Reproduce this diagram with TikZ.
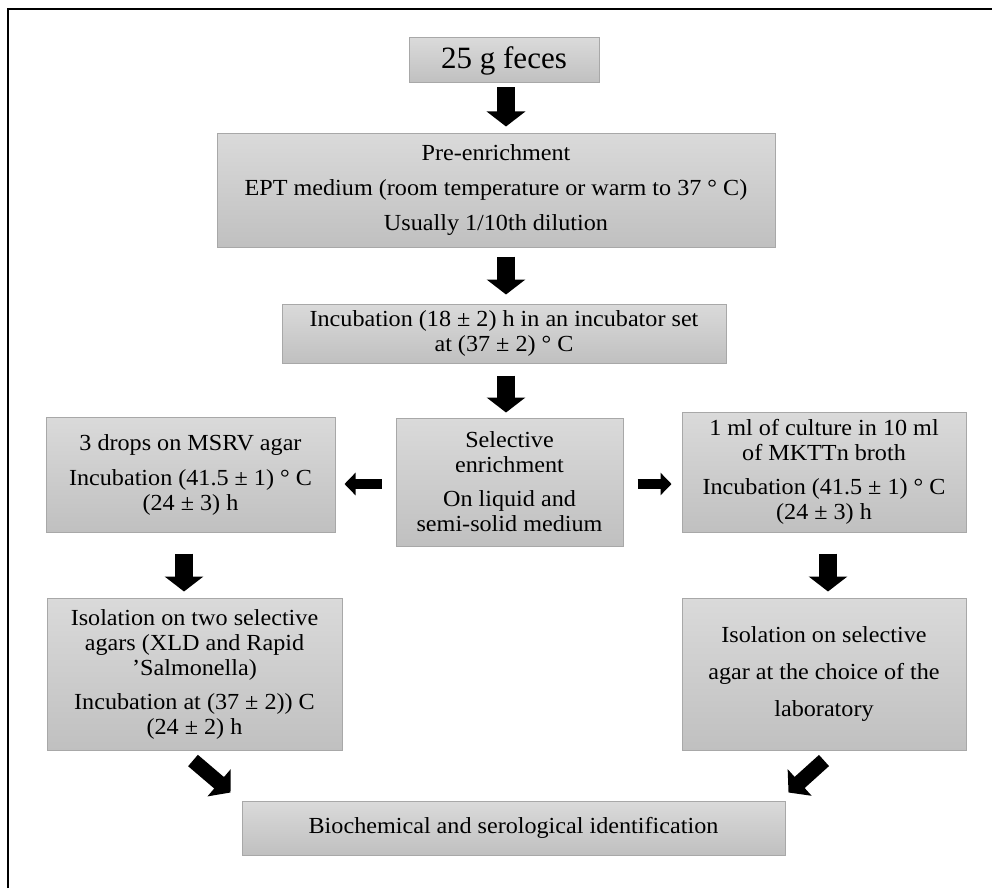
\documentclass[tikz,border=0pt]{standalone}
\usepackage{fontspec}
\setmainfont{Liberation Serif}[FakeStretch=1.05]
\newfontfamily\plainserif{Liberation Serif}
\usetikzlibrary{arrows.meta,calc}
\definecolor{boxtop}{RGB}{218,218,218}
\definecolor{boxbot}{RGB}{192,192,192}
\definecolor{boxline}{RGB}{168,168,168}
\tikzset{
  box/.style={draw=boxline, line width=1pt, top color=boxtop, bottom color=boxbot,
    align=center, inner sep=0pt, text=black, font=\fontsize{23}{25}\selectfont},
  barrow/.style={line width=18pt, -{Triangle[width=38pt,length=15pt]}, black},
  sarrow/.style={line width=10pt, -{Triangle[width=22pt,length=11pt]}, black},
  darrow/.style={line width=15pt, -{Triangle[width=35pt,length=15pt]}, black},
}
\begin{document}
\begin{tikzpicture}[x=1pt,y=-1pt]
\useasboundingbox (0,0) rectangle (992,888);
\fill[white] (0,0) rectangle (992,888);
\draw[line width=2.5pt] (8,888) -- (8,9) -- (992,9);

\node[box, minimum width=190pt, minimum height=45pt, font=\plainserif\fontsize{31}{34}\selectfont] (feces) at (504,60.5) {25 g feces};
\node[box, minimum width=558pt, minimum height=114pt] (pre) at (496,190)
  {Pre-enrichment\\[10pt]EPT medium (room temperature or warm to 37 ° C)\\[10pt]Usually 1/10th dilution};
\node[box, minimum width=444pt, minimum height=59pt] (incub) at (504,333.5)
  {Incubation (18 ± 2) h in an incubator set\\at (37 ± 2) ° C};
\node[box, minimum width=289pt, minimum height=115pt] (msrv) at (190.5,474.5)
  {3 drops on MSRV agar\\[10pt]Incubation (41.5 ± 1) ° C\\(24 ± 3) h};
\node[box, minimum width=227pt, minimum height=128pt] (sel) at (509.5,482)
  {Selective\\enrichment\\[9pt]On liquid and\\semi-solid medium};
\node[box, minimum width=284pt, minimum height=120pt] (mktt) at (824,472)
  {1 ml of culture in 10 ml\\of MKTTn broth\\[9pt]Incubation (41.5 ± 1) ° C\\(24 ± 3) h};
\node[box, minimum width=295pt, minimum height=152pt] (iso1) at (194.5,674)
  {Isolation on two selective\\agars (XLD and Rapid\\’Salmonella)\\[9pt]Incubation at (37 ± 2)) C\\(24 ± 2) h};
\node[box, minimum width=284pt, minimum height=152pt, font=\fontsize{23}{37}\selectfont] (iso2) at (824,674)
  {Isolation on selective\\agar at the choice of the\\laboratory};
\node[box, minimum width=543pt, minimum height=54pt] (bio) at (513.5,828)
  {Biochemical and serological identification};

\draw[barrow] ($(feces.south)+(2,4)$) -- ($(feces.south |- pre.north)+(2,-6)$);
\draw[barrow] ($(pre.south)+(10,9)$) -- ($(incub.north)+(2,-9)$);
\draw[barrow] ($(incub.south)+(2,12)$) -- ($(sel.north)+(-3.5,-5)$);
\draw[sarrow] ($(sel.west)+(-14,2)$) -- ($(msrv.east |- sel.west)+(9,2)$);
\draw[sarrow] ($(sel.east)+(14,2)$) -- ($(mktt.west |- sel.east)+(-10,2)$);
\draw[barrow] ($(msrv.south)+(-6.5,21)$) -- ($(iso1.north)+(-10.5,-6)$);
\draw[barrow] ($(mktt.south)+(4,21)$) -- ($(iso2.north)+(4,-6)$);
\draw[darrow] ($(iso1.south)+(-1.5,10)$) -- ($(bio.north west)+(-11,-8)$);
\draw[darrow] ($(iso2.south)+(0,10)$) -- ($(bio.north east)+(3,-8)$);
\end{tikzpicture}
\end{document}
